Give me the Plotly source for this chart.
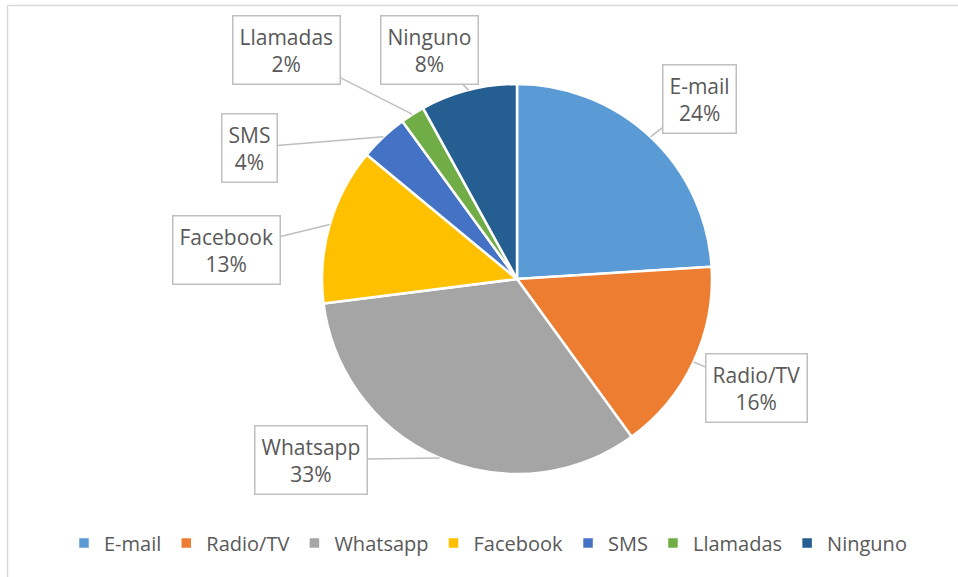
import math
import plotly.graph_objects as go

categories = ["E-mail", "Radio/TV", "Whatsapp", "Facebook", "SMS", "Llamadas", "Ninguno"]
values = [24, 16, 33, 13, 4, 2, 8]
pct_labels = ["24%", "16%", "33%", "13%", "4%", "2%", "8%"]
colors = ["#5B9BD5", "#ED7D31", "#A5A5A5", "#FFC000", "#4472C4", "#70AD47", "#255E91"]

# label box offsets (pixels from slice edge point to box centre)
label_offsets = {
    "E-mail": (49, -38),
    "Radio/TV": (63, 26),
    "Whatsapp": (-129, 2),
    "Facebook": (-103, 25),
    "SMS": (-134, 11),
    "Llamadas": (-126, -64),
    "Ninguno": (-39, -40),
}

W, H = 958, 577
CX, CY, R = 517, 279, 195  # pie centre / radius in pixels

dom_x = [(CX - R) / W, (CX + R) / W]
dom_y = [1 - (CY + R) / H, 1 - (CY - R) / H]

TEXT = "#595959"
FONT = "Open Sans, sans-serif"

fig = go.Figure(go.Pie(
    labels=categories,
    values=values,
    sort=False,
    direction="clockwise",
    rotation=0,
    marker=dict(colors=colors, line=dict(color="white", width=2.5)),
    textinfo="none",
    hoverinfo="label+percent",
    domain=dict(x=dom_x, y=dom_y),
))

total = sum(values)
cum = 0
annotations = []
for cat, v, p in zip(categories, values, pct_labels):
    mid = (cum + v / 2) / total
    cum += v
    th = 2 * math.pi * mid
    px = CX + R * math.sin(th)
    py = CY - R * math.cos(th)
    ax, ay = label_offsets[cat]
    annotations.append(dict(
        x=px / W, y=1 - py / H, xref="paper", yref="paper",
        text=f"{cat}<br>{p}", showarrow=True, arrowhead=0, arrowwidth=1.5,
        arrowcolor="#BFBFBF", ax=ax, ay=ay, standoff=0,
        bordercolor="#BFBFBF", borderwidth=1.5, borderpad=6, bgcolor="white",
        font=dict(family=FONT, size=21, color=TEXT), align="center",
    ))

fig.update_layout(
    width=W, height=H,
    margin=dict(l=0, r=0, t=0, b=0),
    paper_bgcolor="white",
    plot_bgcolor="white",
    annotations=annotations,
    showlegend=True,
    legend=dict(
        orientation="h", x=(W / 2 + 9) / W, xanchor="center", y=(H - 543) / H, yanchor="middle",
        font=dict(family=FONT, size=20, color=TEXT), itemwidth=30,
        traceorder="normal",
    ),
    shapes=[dict(type="rect", xref="paper", yref="paper",
                 x0=7.5 / W, x1=(W + 5) / W, y0=-5 / H, y1=1 - 5.5 / H,
                 line=dict(color="#D9D9D9", width=1.5), layer="below")],
)

fig.write_html("out.html", config={"displayModeBar": False},
               post_script="document.body.style.margin='0';")
